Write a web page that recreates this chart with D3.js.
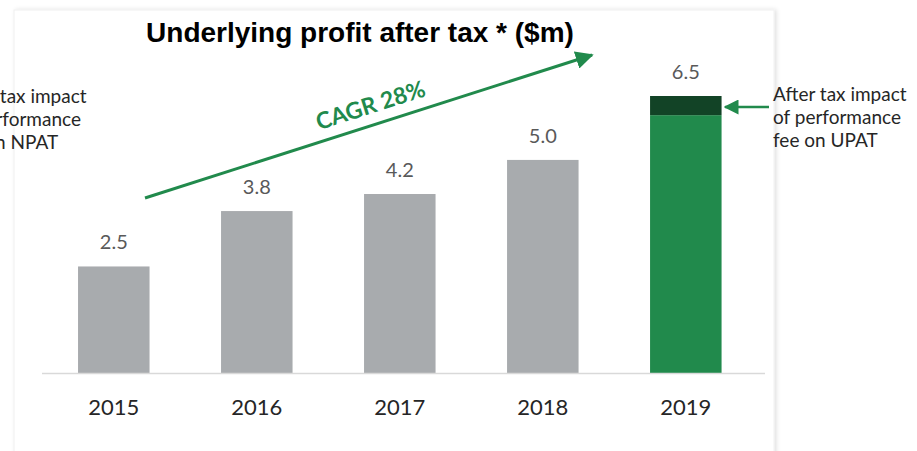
<!DOCTYPE html>
<html>
<head>
<meta charset="utf-8">
<script src="https://cdn.jsdelivr.net/npm/d3@7"></script>
<style>
  body { margin: 0; background: #fff; }
  svg { display: block; }
</style>
</head>
<body>
<svg id="chart" width="917" height="451"></svg>
<script>
// data
var years = ["2015", "2016", "2017", "2018", "2019"];
var totals = [2.5, 3.8, 4.2, 5.0, 6.5];
var feeImpact = [0, 0, 0, 0, 0.45];   // dark segment on top of 2019
var labels = ["2.5", "3.8", "4.2", "5.0", "6.5"];
var rightNote = ["After tax impact", "of performance", "fee on UPAT"];
var leftNote = ["After tax impact", "of performance", "fee on NPAT"];

var svg = d3.select("#chart");
var font = "Lato, 'Open Sans', sans-serif";

// card background
var defs = svg.append("defs");
var f = defs.append("filter").attr("id", "shadow").attr("x", "-5%").attr("y", "-5%").attr("width", "110%").attr("height", "110%");
f.append("feDropShadow").attr("dx", 2).attr("dy", 0).attr("stdDeviation", 2).attr("flood-color", "#000").attr("flood-opacity", 0.12);
defs.append("marker").attr("id", "head").attr("viewBox", "0 0 10 10")
    .attr("refX", 9).attr("refY", 5).attr("markerWidth", 6).attr("markerHeight", 6)
    .attr("markerUnits", "strokeWidth").attr("orient", "auto")
  .append("path").attr("d", "M0,0 L10,5 L0,10 z").attr("fill", "#218a4c");

svg.append("rect").attr("x", 14).attr("y", 10).attr("width", 760).attr("height", 460)
    .attr("fill", "#fff").attr("stroke", "#f0f0f0").attr("filter", "url(#shadow)");

var x = d3.scaleBand().domain(years).range([42, 757.6]).paddingInner(0.5).paddingOuter(0.252);
var y = d3.scaleLinear().domain([0, 6.5]).range([373, 96]);

// bars
svg.selectAll("rect.bar").data(years).enter().append("rect")
    .attr("class", "bar")
    .attr("x", function(d) { return x(d); })
    .attr("width", x.bandwidth())
    .attr("y", function(d, i) { return y(totals[i] - feeImpact[i]); })
    .attr("height", function(d, i) { return y(0) - y(totals[i] - feeImpact[i]); })
    .attr("fill", function(d, i) { return i === years.length - 1 ? "#218a4c" : "#a8abae"; });

svg.selectAll("rect.fee").data(years.filter(function(d, i) { return feeImpact[i] > 0; })).enter().append("rect")
    .attr("class", "fee")
    .attr("x", function(d) { return x(d); })
    .attr("width", x.bandwidth())
    .attr("y", function(d) { var i = years.indexOf(d); return y(totals[i]); })
    .attr("height", function(d) { var i = years.indexOf(d); return y(totals[i] - feeImpact[i]) - y(totals[i]); })
    .attr("fill", "#124326");

// baseline
svg.append("line").attr("x1", 42).attr("x2", 765).attr("y1", y(0) + 0.5).attr("y2", y(0) + 0.5)
    .attr("stroke", "#d9d9d9").attr("stroke-width", 1.5);

// value labels
svg.selectAll("text.val").data(years).enter().append("text")
    .attr("class", "val")
    .attr("x", function(d) { return x(d) + x.bandwidth() / 2; })
    .attr("y", function(d, i) { return y(totals[i]) - 17; })
    .attr("text-anchor", "middle")
    .attr("font-family", font).attr("font-size", 20).attr("fill", "#595959")
    .text(function(d, i) { return labels[i]; });

// x axis labels
var xAxis = d3.axisBottom(x).tickSize(0).tickPadding(0);
var gx = svg.append("g").attr("transform", "translate(0," + 399 + ")").call(xAxis);
gx.select(".domain").remove();
gx.selectAll("text").attr("font-family", font).attr("font-size", 22).attr("fill", "#262626").attr("dy", "0.71em");

// title
svg.append("text").attr("x", 360).attr("y", 42).attr("text-anchor", "middle")
    .attr("font-family", "Arial, 'Liberation Sans', sans-serif").attr("font-weight", "bold")
    .attr("font-size", 28).attr("fill", "#000")
    .text("Underlying profit after tax * ($m)");

// CAGR arrow
svg.append("line").attr("x1", 145).attr("y1", 198).attr("x2", 592).attr("y2", 55)
    .attr("stroke", "#218a4c").attr("stroke-width", 3).attr("marker-end", "url(#head)");
var ang = Math.atan2(55 - 198, 592 - 145) * 180 / Math.PI;
svg.append("text").attr("transform", "translate(373,113) rotate(" + ang + ")")
    .attr("text-anchor", "middle")
    .attr("font-family", font).attr("font-weight", "bold").attr("font-size", 23).attr("fill", "#218a4c")
    .text("CAGR 28%");

// right annotation
svg.append("line").attr("x1", 769).attr("y1", 107).attr("x2", 725).attr("y2", 107)
    .attr("stroke", "#218a4c").attr("stroke-width", 2.5).attr("marker-end", "url(#head)");
svg.append("g").selectAll("text").data(rightNote).enter().append("text")
    .attr("x", 773).attr("y", function(d, i) { return 101 + i * 23; })
    .attr("font-family", font).attr("font-size", 19).attr("fill", "#262626")
    .text(function(d) { return d; });

// left annotation (clipped by the page edge, as in the source)
svg.append("g").selectAll("text").data(leftNote).enter().append("text")
    .attr("x", -47).attr("y", function(d, i) { return 103 + i * 23; })
    .attr("font-family", font).attr("font-size", 19).attr("fill", "#262626")
    .text(function(d) { return d; });
</script>
</body>
</html>
